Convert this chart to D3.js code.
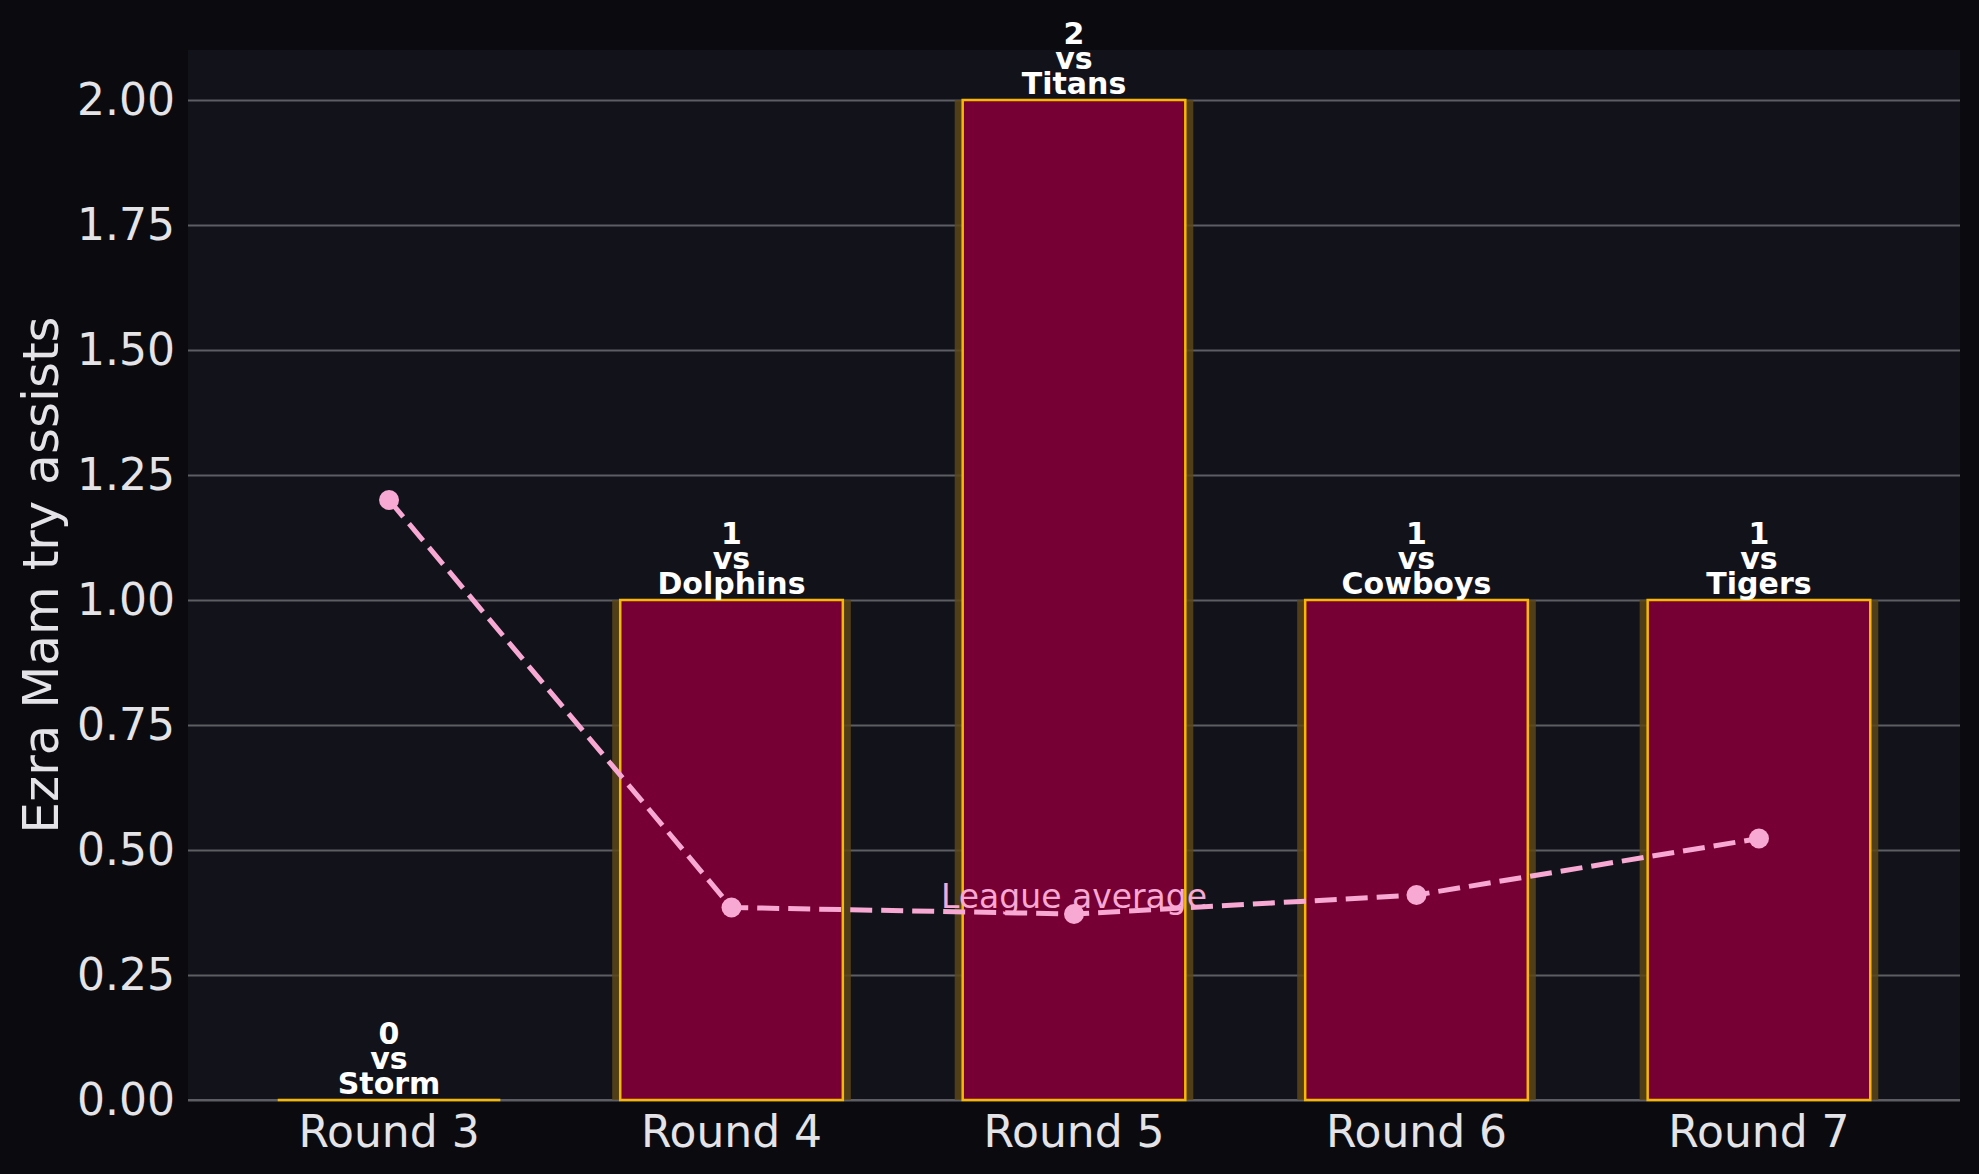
<!DOCTYPE html>
<html>
<head>
<meta charset="utf-8">
<script src="https://cdn.jsdelivr.net/npm/d3@7"></script>
<style>
  html, body { margin: 0; padding: 0; background: #0b0b0f; }
  svg { display: block; }
</style>
</head>
<body>
<svg id="chart" width="1979" height="1174"></svg>
<script>
const rounds = ["Round 3", "Round 4", "Round 5", "Round 6", "Round 7"];
const opponents = ["Storm", "Dolphins", "Titans", "Cowboys", "Tigers"];
const tryAssists = [0, 1, 2, 1, 1];
const leagueAverage = [1.2, 0.385, 0.372, 0.41, 0.523];
const yTicks = [0, 0.25, 0.5, 0.75, 1.0, 1.25, 1.5, 1.75, 2.0];
const yLabel = "Ezra Mam try assists";
const avgLabel = "League average";

const W = 1979, H = 1174;
const m = { left: 188, right: 19, top: 50, bottom: 74 };
const svg = d3.select("#chart");
const font = "'DejaVu Sans', 'Noto Sans', sans-serif";

svg.append("rect").attr("width", W).attr("height", H).attr("fill", "#0b0b0f");
svg.append("rect").attr("x", m.left).attr("y", m.top)
  .attr("width", W - m.left - m.right).attr("height", H - m.top - m.bottom)
  .attr("fill", "#12131a");

const x = d3.scaleLinear().domain([-0.587, rounds.length - 1 + 0.587]).range([m.left, W - m.right]);
const y = d3.scaleLinear().domain([0, 2.1]).range([H - m.bottom, m.top]);
const barW = 0.65;

// grid
const yAxis = d3.axisLeft(y).tickValues(yTicks).tickFormat(d3.format(".2f"))
  .tickSize(-(W - m.left - m.right)).tickPadding(13);
const gy = svg.append("g").attr("transform", `translate(${m.left},0)`).call(yAxis);
gy.select(".domain").remove();
gy.selectAll(".tick line").attr("stroke", "#5d5d64").attr("stroke-width", 2);
gy.selectAll(".tick text").attr("fill", "#e4e4e8").attr("font-size", 44).attr("font-family", font);

// bottom axis line
svg.append("line").attr("x1", m.left).attr("x2", W - m.right)
  .attr("y1", y(0)).attr("y2", y(0)).attr("stroke", "#5d5d64").attr("stroke-width", 2);

const idx = rounds.map((_, i) => i);

// glow
svg.append("g").selectAll("rect").data(idx.filter(i => tryAssists[i] > 0)).join("rect")
  .attr("x", i => x(i - barW / 2) - 8)
  .attr("width", i => x(i + barW / 2) - x(i - barW / 2) + 16)
  .attr("y", i => y(tryAssists[i]))
  .attr("height", i => y(0) - y(tryAssists[i]))
  .attr("fill", "#5a4619").attr("opacity", 0.85);

// bars
svg.append("g").selectAll("rect").data(idx.filter(i => tryAssists[i] > 0)).join("rect")
  .attr("x", i => x(i - barW / 2))
  .attr("width", i => x(i + barW / 2) - x(i - barW / 2))
  .attr("y", i => y(tryAssists[i]))
  .attr("height", i => y(0) - y(tryAssists[i]))
  .attr("fill", "#760033")
  .attr("stroke", "#f7b800").attr("stroke-width", 2.5);

// zero-height bars drawn as a gold edge
svg.append("g").selectAll("line").data(idx.filter(i => tryAssists[i] === 0)).join("line")
  .attr("x1", i => x(i - barW / 2)).attr("x2", i => x(i + barW / 2))
  .attr("y1", i => y(tryAssists[i])).attr("y2", i => y(tryAssists[i]))
  .attr("stroke", "#f7b800").attr("stroke-width", 2.5);

// x tick labels
svg.append("g").selectAll("text").data(idx).join("text")
  .attr("x", i => x(i)).attr("y", 1147)
  .attr("text-anchor", "middle").attr("fill", "#e4e4e8")
  .attr("font-size", 44).attr("font-family", font)
  .text(i => rounds[i]);

// bar annotations
const ann = svg.append("g");
idx.forEach(i => {
  const lines = [String(tryAssists[i]), "vs", opponents[i]];
  const base = y(tryAssists[i]) - 6;
  lines.forEach((t, k) => {
    ann.append("text")
      .attr("x", x(i)).attr("y", base - (2 - k) * 25)
      .attr("text-anchor", "middle").attr("fill", "#ffffff")
      .attr("font-weight", "bold").attr("font-size", 30).attr("font-family", font)
      .text(t);
  });
});

// league average line
const line = d3.line().x((d, i) => x(i)).y(d => y(d));
svg.append("path").datum(leagueAverage)
  .attr("d", line).attr("fill", "none")
  .attr("stroke", "#f7a8d3").attr("stroke-width", 5)
  .attr("stroke-dasharray", "22,9");
svg.append("g").selectAll("circle").data(leagueAverage).join("circle")
  .attr("cx", (d, i) => x(i)).attr("cy", d => y(d)).attr("r", 10)
  .attr("fill", "#f7a8d3");

svg.append("text")
  .attr("x", x(2)).attr("y", y(leagueAverage[2]) - 6)
  .attr("text-anchor", "middle").attr("fill", "#f7a8d3")
  .attr("font-size", 33).attr("font-family", font)
  .text(avgLabel);

// y label
svg.append("text")
  .attr("transform", `translate(58, ${(m.top + H - m.bottom) / 2}) rotate(-90)`)
  .attr("text-anchor", "middle").attr("fill", "#e4e4e8")
  .attr("font-size", 50).attr("font-family", font)
  .text(yLabel);
</script>
</body>
</html>
